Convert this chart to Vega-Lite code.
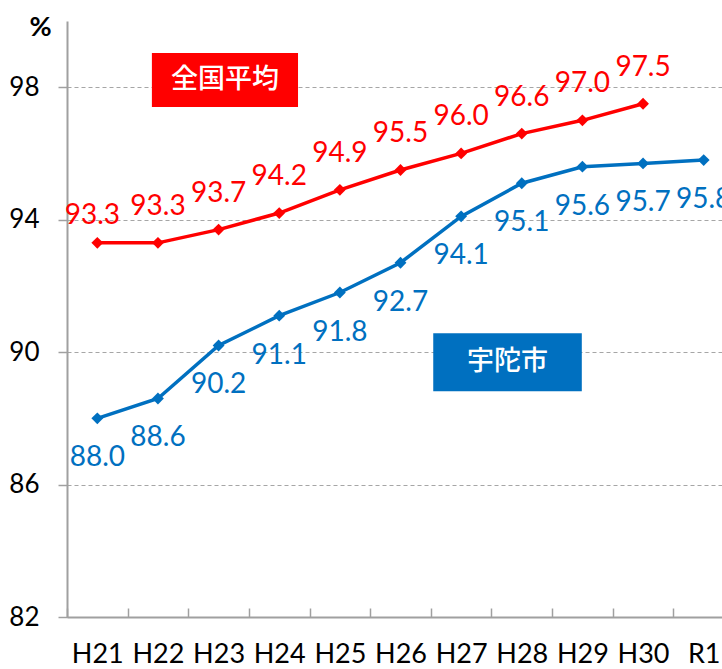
{
  "$schema": "https://vega.github.io/schema/vega-lite/v6.json",
  "width": 667,
  "height": 596,
  "autosize": {"type": "none"},
  "padding": {"left": 67, "top": 21, "right": 0, "bottom": 52},
  "background": "white",
  "config": {"view": {"stroke": null}, "font": "Lato"},
  "datasets": {
    "series": [
      {"year": "H21", "series": "全国平均", "value": 93.3},
      {"year": "H22", "series": "全国平均", "value": 93.3},
      {"year": "H23", "series": "全国平均", "value": 93.7},
      {"year": "H24", "series": "全国平均", "value": 94.2},
      {"year": "H25", "series": "全国平均", "value": 94.9},
      {"year": "H26", "series": "全国平均", "value": 95.5},
      {"year": "H27", "series": "全国平均", "value": 96.0},
      {"year": "H28", "series": "全国平均", "value": 96.6},
      {"year": "H29", "series": "全国平均", "value": 97.0},
      {"year": "H30", "series": "全国平均", "value": 97.5},
      {"year": "H21", "series": "宇陀市", "value": 88.0},
      {"year": "H22", "series": "宇陀市", "value": 88.6},
      {"year": "H23", "series": "宇陀市", "value": 90.2},
      {"year": "H24", "series": "宇陀市", "value": 91.1},
      {"year": "H25", "series": "宇陀市", "value": 91.8},
      {"year": "H26", "series": "宇陀市", "value": 92.7},
      {"year": "H27", "series": "宇陀市", "value": 94.1},
      {"year": "H28", "series": "宇陀市", "value": 95.1},
      {"year": "H29", "series": "宇陀市", "value": 95.6},
      {"year": "H30", "series": "宇陀市", "value": 95.7},
      {"year": "R1", "series": "宇陀市", "value": 95.8}
    ],
    "boxes": [
      {"series": "全国平均", "x1": 1.40, "x2": 3.81, "y1": 99.03, "y2": 97.40, "xc": 2.605, "yc": 98.22},
      {"series": "宇陀市", "x1": 6.04, "x2": 8.49, "y1": 90.57, "y2": 88.82, "xc": 7.265, "yc": 89.70}
    ]
  },
  "layer": [
    {
      "data": {"name": "series"},
      "encoding": {
        "x": {
          "field": "year",
          "type": "ordinal",
          "sort": null,
          "scale": {"domain": ["H21","H22","H23","H24","H25","H26","H27","H28","H29","H30","R1"], "paddingInner": 0, "paddingOuter": 0},
          "axis": {
            "title": null,
            "labelAngle": 0,
            "tickBand": "extent",
            "tickSize": -9,
            "tickWidth": 1.5,
            "tickColor": "#A0A0A0",
            "domainColor": "#A0A0A0",
            "domainWidth": 2,
            "labelFontSize": 27,
            "labelColor": "#000000",
            "labelPadding": 33,
            "grid": false
          }
        },
        "y": {
          "field": "value",
          "type": "quantitative",
          "scale": {"domain": [82, 100], "nice": false, "zero": false},
          "axis": {
            "values": [82, 86, 90, 94, 98],
            "grid": true,
            "gridDash": [4, 3],
            "gridColor": "#A6A6A6",
            "gridWidth": 1.2,
            "domainColor": "#A0A0A0",
            "domainWidth": 2,
            "tickColor": "#A0A0A0",
            "tickSize": 9,
            "tickWidth": 1.5,
            "labelFontSize": 26,
            "labelColor": "#000000",
            "labelPadding": 19,
            "title": "%",
            "titleAngle": 0,
            "titleX": -27,
            "titleY": 6,
            "titleFontSize": 27,
            "titleFontWeight": "bold",
            "titleAlign": "center",
            "titleBaseline": "middle",
            "titleColor": "#000000"
          }
        },
        "color": {
          "field": "series",
          "type": "nominal",
          "scale": {"domain": ["全国平均", "宇陀市"], "range": ["#FF0000", "#0070C0"]},
          "legend": null
        }
      },
      "layer": [
        {
          "mark": {"type": "line", "strokeWidth": 3.5, "point": {"shape": "diamond", "size": 140, "filled": true, "opacity": 1}}
        },
        {
          "transform": [{"filter": "datum.series === '全国平均' && datum.year !== 'H21'"}],
          "mark": {"type": "text", "fontSize": 28, "align": "center", "baseline": "middle", "dy": -36},
          "encoding": {"text": {"field": "value", "type": "quantitative", "format": ".1f"}}
        },
        {
          "transform": [{"filter": "datum.series === '全国平均' && datum.year === 'H21'"}],
          "mark": {"type": "text", "fontSize": 28, "align": "center", "baseline": "middle", "dy": -27, "dx": -5},
          "encoding": {"text": {"field": "value", "type": "quantitative", "format": ".1f"}}
        },
        {
          "transform": [{"filter": "datum.series === '宇陀市'"}],
          "mark": {"type": "text", "fontSize": 28, "align": "center", "baseline": "middle", "dy": 40},
          "encoding": {"text": {"field": "value", "type": "quantitative", "format": ".1f"}}
        }
      ]
    },
    {
      "data": {"name": "boxes"},
      "layer": [
        {
          "mark": {"type": "rect"},
          "encoding": {
            "x": {"field": "x1", "type": "quantitative", "scale": {"domain": [0, 11], "nice": false, "zero": false}, "axis": null},
            "x2": {"field": "x2"},
            "y": {"field": "y1", "type": "quantitative", "scale": {"domain": [82, 100], "nice": false, "zero": false}, "axis": null},
            "y2": {"field": "y2"},
            "color": {"field": "series", "type": "nominal", "scale": {"domain": ["全国平均", "宇陀市"], "range": ["#FF0000", "#0070C0"]}, "legend": null}
          }
        },
        {
          "mark": {"type": "text", "font": "Noto Sans CJK JP", "fontSize": 27, "fontWeight": 500, "color": "#FFFFFF", "align": "center", "baseline": "middle"},
          "encoding": {
            "x": {"field": "xc", "type": "quantitative", "scale": {"domain": [0, 11], "nice": false, "zero": false}, "axis": null},
            "y": {"field": "yc", "type": "quantitative", "scale": {"domain": [82, 100], "nice": false, "zero": false}, "axis": null},
            "text": {"field": "series"}
          }
        }
      ]
    }
  ],
  "resolve": {"scale": {"x": "independent", "y": "independent"}}
}
